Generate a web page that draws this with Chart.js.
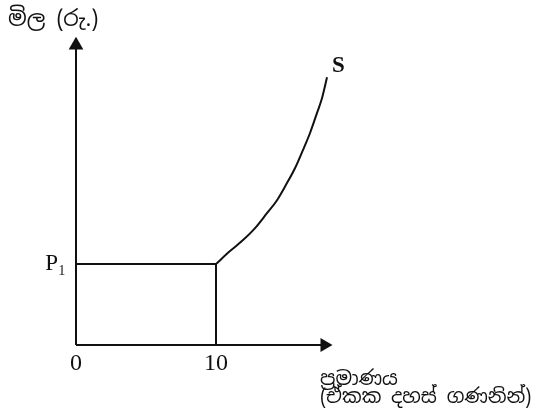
<!DOCTYPE html>
<html>
<head>
<meta charset="utf-8">
<script src="https://cdn.jsdelivr.net/npm/chart.js@4.4.1/dist/chart.umd.min.js"></script>
<style>
  html, body { margin: 0; padding: 0; background: #ffffff; }
  #wrap { width: 547px; height: 412px; position: relative; }
</style>
</head>
<body>
<div id="wrap"><canvas id="c"></canvas></div>
<script>
// ---- data ----
const supplyQuantity = [10, 11, 11.93, 12.79, 13.64, 14.36, 15.07, 15.64, 16.21, 16.71, 17.21, 17.57, 17.93];
const supplyPrice    = [25, 29.0, 32.4, 36.1, 40.7, 44.7, 50.0, 54.6, 60.2, 65.4, 71.6, 76.2, 82.7];
const priceP1 = 25;
const quantityQ1 = 10;
const xTickValues = [0, 10];
const xTickLabels = ['0', '10'];
const yTickValues = [25];
const yTickLabels = ['P\u2081'];
const xAxisEnd = 17.75;
const yAxisEnd = 92.6;
const curveLabel = 'S';
const yTitle = 'මිල (රු.)';
const xTitle = ['ප්‍රමාණය', '(ඒකක දහස් ගණනින්)'];

const ink = '#111111';
const serif = "'Liberation Serif', 'DejaVu Serif', serif";
const sinhala = "'Noto Sans Sinhala', 'Noto Sans', 'DejaVu Sans', sans-serif";

const supplyPoints = supplyQuantity.map((q, i) => ({ x: q, y: supplyPrice[i] }));

const annotate = {
  id: 'annotate',
  afterDatasetsDraw(chart) {
    const { ctx, chartArea } = chart;
    const xs = chart.scales.x, ys = chart.scales.y;
    ctx.save();
    // S label at end of curve
    const last = supplyPoints[supplyPoints.length - 1];
    ctx.fillStyle = ink;
    ctx.font = "bold 23px " + serif;
    ctx.textAlign = 'left';
    ctx.textBaseline = 'middle';
    ctx.fillText(curveLabel, xs.getPixelForValue(last.x) + 5, ys.getPixelForValue(last.y) - 11);
    // x axis title, left aligned, two lines
    ctx.font = "19.5px " + sinhala;
    ctx.textBaseline = 'top';
    const tx = chartArea.left + 244;
    ctx.fillText(xTitle[0], tx, chartArea.bottom + 25);
    ctx.fillText(xTitle[1], tx, chartArea.bottom + 43);
    ctx.restore();
  }
};

const lineBase = {
  borderColor: ink,
  backgroundColor: ink,
  borderWidth: 2,
  pointRadius: 0,
  pointHoverRadius: 0,
  fill: false,
  clip: false,
  tension: 0
};

new Chart(document.getElementById('c'), {
  type: 'line',
  data: {
    datasets: [
      Object.assign({}, lineBase, {
        label: 'y-axis',
        data: [{ x: 0, y: 0 }, { x: 0, y: yAxisEnd }],
        pointRadius: [0, 8.5],
        pointStyle: 'triangle',
        pointRotation: 0,
        pointBorderWidth: 0
      }),
      Object.assign({}, lineBase, {
        label: 'x-axis',
        data: [{ x: 0, y: 0 }, { x: xAxisEnd, y: 0 }],
        pointRadius: [0, 8],
        pointStyle: 'triangle',
        pointRotation: 90,
        pointBorderWidth: 0
      }),
      Object.assign({}, lineBase, {
        label: 'P1',
        data: [{ x: 0, y: priceP1 }, { x: quantityQ1, y: priceP1 }]
      }),
      Object.assign({}, lineBase, {
        label: 'Q1',
        data: [{ x: quantityQ1, y: 0 }, { x: quantityQ1, y: priceP1 }]
      }),
      Object.assign({}, lineBase, {
        label: 'S',
        data: supplyPoints,
        cubicInterpolationMode: 'monotone'
      })
    ]
  },
  options: {
    responsive: true,
    maintainAspectRatio: false,
    animation: false,
    events: [],
    layout: { padding: { left: 8, right: 212, top: 3, bottom: 0 } },
    plugins: {
      legend: { display: false },
      tooltip: { enabled: false },
      title: {
        display: true,
        text: yTitle,
        align: 'start',
        color: ink,
        font: { family: sinhala, size: 22, weight: 'normal', lineHeight: 1.2 },
        padding: { top: 4, bottom: 4 }
      }
    },
    scales: {
      x: {
        type: 'linear',
        min: 0,
        max: 18.5,
        border: { display: false },
        grid: { display: false, drawTicks: false },
        afterBuildTicks(s) { s.ticks = xTickValues.map(v => ({ value: v })); },
        afterFit(s) { s.height = 67; },
        ticks: {
          autoSkip: false,
          maxRotation: 0,
          padding: 4,
          color: ink,
          font: { family: serif, size: 24 },
          callback(v) { const i = xTickValues.indexOf(v); return i >= 0 ? xTickLabels[i] : ''; }
        }
      },
      y: {
        type: 'linear',
        min: 0,
        max: 95,
        border: { display: false },
        grid: { display: false, drawTicks: false },
        afterBuildTicks(s) { s.ticks = yTickValues.map(v => ({ value: v })); },
        afterFit(s) { s.width = 68; },
        ticks: {
          autoSkip: false,
          padding: 10,
          color: ink,
          font: { family: serif, size: 23 },
          callback(v) { const i = yTickValues.indexOf(v); return i >= 0 ? yTickLabels[i] : ''; }
        }
      }
    }
  },
  plugins: [annotate]
});
</script>
</body>
</html>
